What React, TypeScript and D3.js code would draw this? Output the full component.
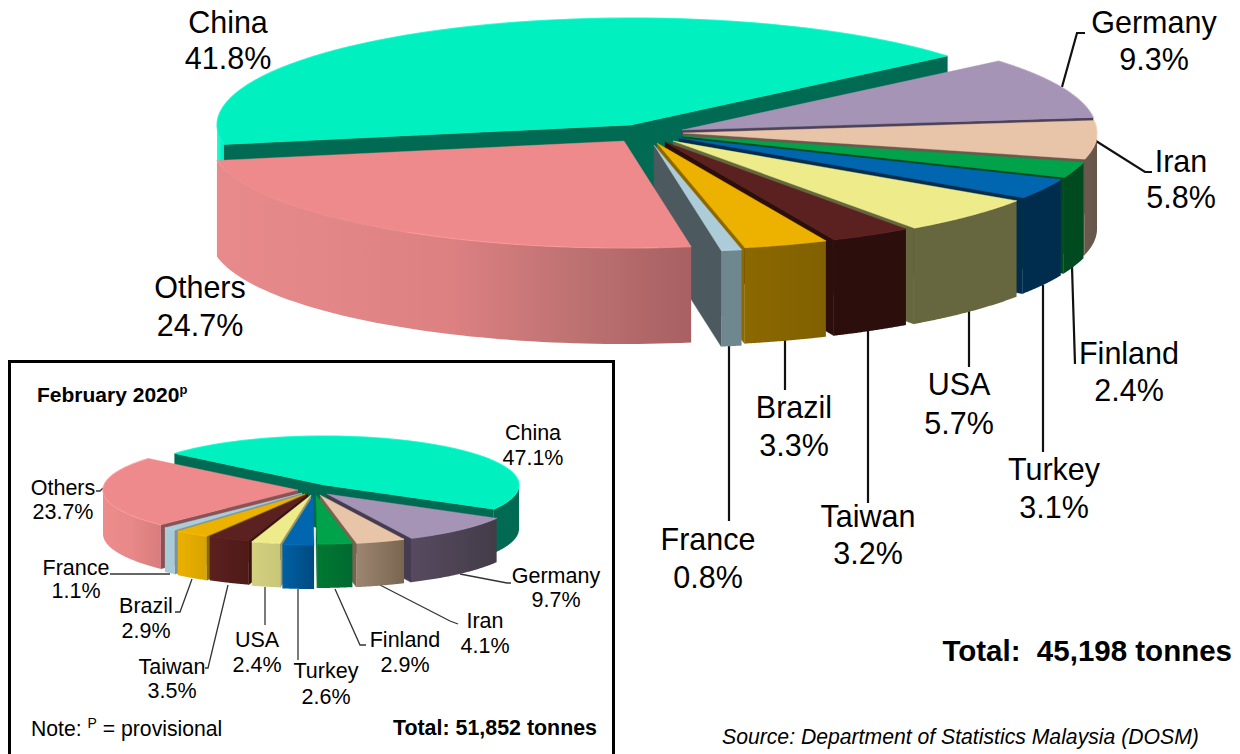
import React from "react";
import * as d3 from "d3";

const categories = ["China", "Germany", "Iran", "Finland", "Turkey", "USA", "Taiwan", "Brazil", "France", "Others"];
const mainValues = [41.8, 9.3, 5.8, 2.4, 3.1, 5.7, 3.2, 3.3, 0.8, 24.7];
const insetValues = [47.1, 9.7, 4.1, 2.9, 2.6, 2.4, 3.5, 2.9, 1.1, 23.7];

const topColors = ["#00F0C0", "#A594B6", "#E8C4A8", "#00A24A", "#0066B0", "#EEEC8A", "#5B2020", "#EDB100", "#ABCCD8", "#EE8A8C"];
const mainCut = ["#006A52", "#4D4059", "#6B5A4C", "#004A20", "#002C4E", "#66673E", "#2C0E0C", "#8C6800", "#4C5A60", "#A96263"];
const mainWall: string[][] = [
  ["#20FFD8", "#00E8B8"], ["#4D4059", "#4D4059"], ["#6B5A4C", "#66564A"], ["#004A20", "#004A20"], ["#002C4E", "#002C4E"],
  ["#66673E", "#66673E"], ["#2C0E0C", "#2C0E0C"], ["#8C6800", "#806000"], ["#6F878F", "#6F878F"],
  ["#E88A8C", "#E28688", "#DC8082", "#BE7272", "#A86062"],
];
const insetCut = ["#006A52", "#463C50", "#7A6450", "#006A30", "#004A80", "#9A9860", "#3A1412", "#8C6800", "#7A959F", "#8A5254"];
const insetWall: string[][] = [
  ["#006A52", "#006A52"], ["#574A60", "#433C48"], ["#9C8672", "#7A6650"], ["#007832", "#006A30"], ["#0060A4", "#004A80"],
  ["#D4D080", "#C8C678"], ["#5A201E", "#4E1A18"], ["#EBB000", "#D8A400"], ["#A9CBD7", "#A9CBD7"],
  ["#EE8C8C", "#E88888", "#D87C7E"],
];

const mainTips: [number, number][] = [[631, 125], [682, 130], [683, 133], [682, 136], [679, 138], [673, 141], [665, 142], [657, 143], [654, 145], [624, 141]];
const insetTips: [number, number][] = [[324, 485], [327, 494], [320, 495], [316, 495], [313, 496], [311, 495], [308, 494], [305, 494], [302, 493], [298, 490]];
const mainOrder = [0, 1, 2, 3, 4, 5, 6, 7, 8, 9];
const insetOrder = [0, 9, 8, 7, 6, 5, 1, 2, 3, 4];

const mainLabelPos: [number, number, number][] = [[228, 33, 69], [1154, 33, 70], [1181, 172, 208], [1129, 364, 401], [1054, 480, 518], [959, 395, 434], [868, 527, 564], [794, 418, 456], [708, 550, 588], [200, 298, 336]];
const insetLabelPos: [number, number, number][] = [[533, 440, 465], [556, 583, 607], [485, 628, 653], [405, 647, 672], [326, 678, 704], [257, 647, 672], [172, 674, 698], [146, 613, 638], [76, 575, 598], [63, 495, 519]];

const mainLeaders: [number, number][][] = [
  [[1062, 87], [1077, 33], [1085, 33]], [[1096, 141], [1145, 172], [1152, 172]], [[1072, 267], [1075, 364]],
  [[1043, 285], [1043, 452]], [[969, 311], [969, 367]], [[868, 331], [868, 503]], [[785, 340], [785, 390]], [[729, 345], [729, 521]],
];
const insetLeaders: [number, number][][] = [
  [[110, 574], [170, 574]], [[192, 579], [180, 612], [175, 612]], [[228, 585], [208, 668], [205, 668]], [[265, 587], [265, 625]],
  [[298, 589], [298, 660]], [[335, 589], [360, 645], [366, 645]], [[380, 585], [450, 621], [458, 624]], [[460, 574], [507, 583], [511, 583]], [[96, 491], [100, 491], [103, 488]],
];

const rad = (d: number) => (d * Math.PI) / 180;
const line = d3.line<[number, number]>();

function Pie3D({ id, values, tips, order, startDeg, rx, ry, depth, cut, wall }: any) {
  const arcs = d3.pie<number>().sort(null).value((d) => d).startAngle(rad(startDeg)).endAngle(rad(startDeg + 360))(values);
  const px = (i: number, a: number): [number, number] => [tips[i][0] + rx * Math.sin(a), tips[i][1] - ry * Math.cos(a)];
  const sample = (i: number, a0: number, a1: number) =>
    d3.range(0, 61).map((k) => px(i, d3.scaleLinear().domain([0, 60]).range([a0, a1])(k)));
  const drop = (pts: [number, number][]) => pts.map(([x, y]) => [x, y + depth] as [number, number]);
  return (
    <g>
      <defs>
        {wall.map((stops: string[], i: number) => (
          <linearGradient key={i} id={`${id}w${i}`} x1="0" x2="1" y1="0" y2="0">
            {stops.map((c, k) => (
              <stop key={k} offset={k / (stops.length - 1)} stopColor={c} />
            ))}
          </linearGradient>
        ))}
      </defs>
      {order.map((i: number) => {
        const { startAngle: a0, endAngle: a1 } = arcs[i];
        const tip: [number, number] = [tips[i][0], tips[i][1]];
        const faces: React.ReactNode[] = [];
        const quad = (p: [number, number], k: string) => {
          const q: [number, number][] = [tip, p, [p[0], p[1] + depth], [tip[0], tip[1] + depth]];
          faces.push(<path key={k} d={line(q) + "Z"} fill={cut[i]} stroke={cut[i]} strokeWidth={0.4} />);
        };
        if (Math.sin(a0) < 0) quad(px(i, a0), "s");
        if (Math.sin(a1) > 0) quad(px(i, a1), "e");
        const intervals = [[rad(90), rad(270)], [rad(-270), rad(-90)]];
        const walls = intervals.map(([lo, hi], k) => {
          const b0 = Math.max(a0, lo);
          const b1 = Math.min(a1, hi);
          if (b1 <= b0) return null;
          const arcPts = sample(i, b0, b1);
          return <path key={k} d={line([...arcPts, ...drop(arcPts).reverse()]) + "Z"} fill={`url(#${id}w${i})`} />;
        });
        const arcPts = sample(i, a0, a1);
        const hl = (d3.color(topColors[i]) as any).brighter(0.25).formatHex();
        return (
          <g key={i}>
            {faces}
            {walls}
            <path d={line([tip, ...arcPts]) + "Z"} fill={topColors[i]} stroke={topColors[i]} strokeWidth={0.4} />
            <path d={line(arcPts) as string} fill="none" stroke={hl} strokeWidth={1.2} opacity={0.6} />
          </g>
        );
      })}
    </g>
  );
}

function Labels({ values, pos, size }: any) {
  return (
    <g fontSize={size} fill="#000" textAnchor="middle">
      {categories.map((c, i) => (
        <g key={c}>
          <text x={pos[i][0]} y={pos[i][1]}>{c}</text>
          <text x={pos[i][0]} y={pos[i][2]}>{values[i].toFixed(1)}%</text>
        </g>
      ))}
    </g>
  );
}

function Leaders({ lines, width, stroke }: any) {
  return (
    <g fill="none" stroke={stroke} strokeWidth={width}>
      {lines.map((l: [number, number][], i: number) => (
        <path key={i} d={line(l) as string} />
      ))}
    </g>
  );
}

export default function App() {
  return (
    <svg
      width={1240}
      height={754}
      viewBox="0 0 1240 754"
      style={{ position: "fixed", left: 0, top: 0, background: "#fff" }}
      fontFamily="'Liberation Sans', Arial, sans-serif"
    >
      <Leaders lines={mainLeaders} width={2.2} stroke="#111" />
      <Pie3D id="m" values={mainValues} tips={mainTips} order={mainOrder} startDeg={-100.5} rx={414} ry={107} depth={96} cut={mainCut} wall={mainWall} />
      <Labels values={mainValues} pos={mainLabelPos} size={30.5} />
      <text x={1232} y={661} textAnchor="end" fontWeight="bold" fontSize={29.5} style={{ whiteSpace: "pre" }}>Total:  45,198 tonnes</text>
      <text x={722} y={744} fontStyle="italic" fontSize={21.2}>Source: Department of Statistics Malaysia (DOSM)</text>

      <rect x={9.5} y={361.5} width={604} height={400} fill="#fff" stroke="#000" strokeWidth={3} />
      <Leaders lines={insetLeaders} width={1.3} stroke="#333" />
      <Pie3D id="i" values={insetValues} tips={insetTips} order={insetOrder} startDeg={-50} rx={195} ry={49} depth={44} cut={insetCut} wall={insetWall} />
      <Labels values={insetValues} pos={insetLabelPos} size={21.5} />
      <text x={37} y={402} fontWeight="bold" fontSize={21}>February 2020<tspan fontSize={13} dy={-8}>p</tspan></text>
      <text x={31} y={736} fontSize={21.2}>Note: <tspan fontSize={14} dy={-8}>P</tspan><tspan dy={8}> = provisional</tspan></text>
      <text x={597} y={735} textAnchor="end" fontWeight="bold" fontSize={21.4}>Total: 51,852 tonnes</text>
    </svg>
  );
}
